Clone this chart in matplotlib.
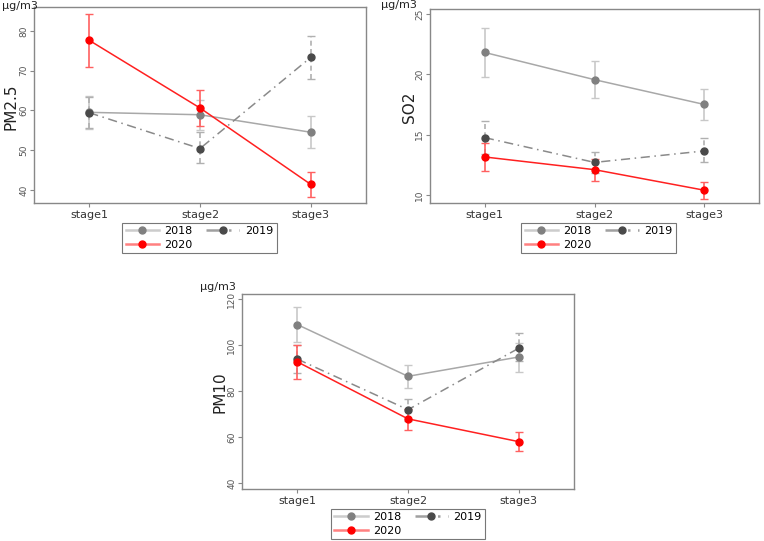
import matplotlib
matplotlib.use("Agg")
import matplotlib.pyplot as plt
from matplotlib.lines import Line2D
import numpy as np

stages = ["stage1", "stage2", "stage3"]
years = ["2018", "2019", "2020"]

# PM2.5: means, lower, upper
pm25_mean = {"2018": [59.5, 58.9, 54.5], "2019": [59.4, 50.4, 73.3], "2020": [77.6, 60.6, 41.4]}
pm25_lo = {"2018": [55.2, 55.0, 50.5], "2019": [55.6, 46.8, 68.0], "2020": [71.0, 56.0, 38.3]}
pm25_hi = {"2018": [63.5, 62.7, 58.5], "2019": [63.3, 54.5, 78.7], "2020": [84.2, 65.2, 44.5]}

so2_mean = {"2018": [21.8, 19.55, 17.5], "2019": [14.75, 12.7, 13.65], "2020": [13.15, 12.1, 10.4]}
so2_lo = {"2018": [19.8, 18.0, 16.2], "2019": [13.4, 11.8, 12.7], "2020": [12.0, 11.2, 9.7]}
so2_hi = {"2018": [23.8, 21.1, 18.8], "2019": [16.1, 13.6, 14.7], "2020": [14.3, 13.0, 11.1]}

pm10_mean = {"2018": [109.0, 86.5, 94.9], "2019": [94.0, 72.0, 98.7], "2020": [92.8, 68.0, 58.1]}
pm10_lo = {"2018": [101.5, 81.6, 88.5], "2019": [88.0, 67.0, 93.0], "2020": [85.5, 63.3, 54.1]}
pm10_hi = {"2018": [116.5, 91.3, 101.0], "2019": [100.0, 76.5, 105.2], "2020": [100.0, 72.5, 62.2]}

style = {
    "2018": dict(line="#a8a8a8", marker="#808080", err="#c8c8c8", ls="-", legline="#cccccc"),
    "2019": dict(line="#8a8a8a", marker="#4a4a4a", err="#b0b0b0", ls=(0, (6, 3, 1, 3)), legline="#a0a0a0"),
    "2020": dict(line="#ff2020", marker="#ff0000", err="#ff6060", ls="-", legline="#ff8080"),
}

fig = plt.figure(figsize=(7.64, 5.41), dpi=100)
W, H = 764, 541

def ax_rect(l, r, t, b):
    return [l / W, 1 - b / H, (r - l) / W, (b - t) / H]

panels = [
    dict(rect=ax_rect(34, 366, 7, 203), mean=pm25_mean, lo=pm25_lo, hi=pm25_hi,
         ylim=(36.7, 86.0), ticks=[40, 50, 60, 70, 80], label="PM2.5",
         lab_xy=(11, 107), unit_xy=(2, 6), leg=(125, 223, 149, 30)),
    dict(rect=ax_rect(430, 759, 9, 203), mean=so2_mean, lo=so2_lo, hi=so2_hi,
         ylim=(9.34, 25.4), ticks=[10, 15, 20, 25], label="SO2",
         lab_xy=(409, 107), unit_xy=(381, 5), leg=(521, 223, 155, 30)),
    dict(rect=ax_rect(242, 574, 294, 489), mean=pm10_mean, lo=pm10_lo, hi=pm10_hi,
         ylim=(37.5, 122.3), ticks=[40, 60, 80, 100, 120], label="PM10",
         lab_xy=(220, 392), unit_xy=(200, 287), leg=(333, 509, 150, 30)),
]

x = np.arange(1, 4)
for p in panels:
    ax = fig.add_axes(p["rect"])
    for y in years:
        s = style[y]
        m = np.array(p["mean"][y]); lo = np.array(p["lo"][y]); hi = np.array(p["hi"][y])
        eb = ax.errorbar(x, m, yerr=[m - lo, hi - m], fmt="none", ecolor=s["err"],
                         elinewidth=1.2, capsize=3, capthick=1.0, zorder=2)
        if y == "2019":
            eb[2][0].set_linestyle((0, (3, 2)))
        ax.plot(x, m, color=s["line"], ls=s["ls"], lw=1.1, zorder=3)
        ax.plot(x, m, ls="none", marker="o", ms=5, color=s["marker"], zorder=4)
    ax.set_xlim(0.5, 3.5)
    ax.set_ylim(*p["ylim"])
    ax.set_xticks(x)
    ax.set_xticklabels(stages, fontsize=8, color="#333333")
    ax.set_yticks(p["ticks"])
    ax.set_yticklabels([str(t) for t in p["ticks"]], fontsize=6.5, color="#555555",
                       rotation=90, va="center")
    ax.tick_params(axis="both", length=3, width=0.8, color="#888888")
    ax.tick_params(axis="y", pad=1)
    ax.tick_params(axis="x", pad=2)
    for sp in ax.spines.values():
        sp.set_color("#888888")
        sp.set_linewidth(1.0)
    lx, ly = p["lab_xy"]
    fig.text(lx / W, 1 - ly / H, p["label"], rotation=90, fontsize=11,
             color="#222222", ha="center", va="center")
    ux, uy = p["unit_xy"]
    fig.text(ux / W, 1 - uy / H, "µg/m3", fontsize=8, color="#222222",
             ha="left", va="center")
    handles = []
    for y in ["2018", "2020", "2019"]:
        s = style[y]
        handles.append(Line2D([], [], color=s["legline"], ls=s["ls"], lw=1.8,
                              marker="o", ms=5, markerfacecolor=s["marker"],
                              markeredgecolor=s["marker"], label=y))
    lx0, ly0, lw_, lh_ = p["leg"]
    leg = fig.legend(handles=handles, ncol=2, fontsize=8,
                     loc="center", bbox_to_anchor=((lx0 + lw_ / 2) / W, 1 - (ly0 + lh_ / 2) / H),
                     frameon=True, fancybox=False, edgecolor="#555555",
                     handlelength=3.0, handletextpad=0.5, columnspacing=1.2,
                     labelspacing=0.3, borderpad=0.3)
    leg.get_frame().set_linewidth(0.8)

fig.savefig("out.png", dpi=100)
